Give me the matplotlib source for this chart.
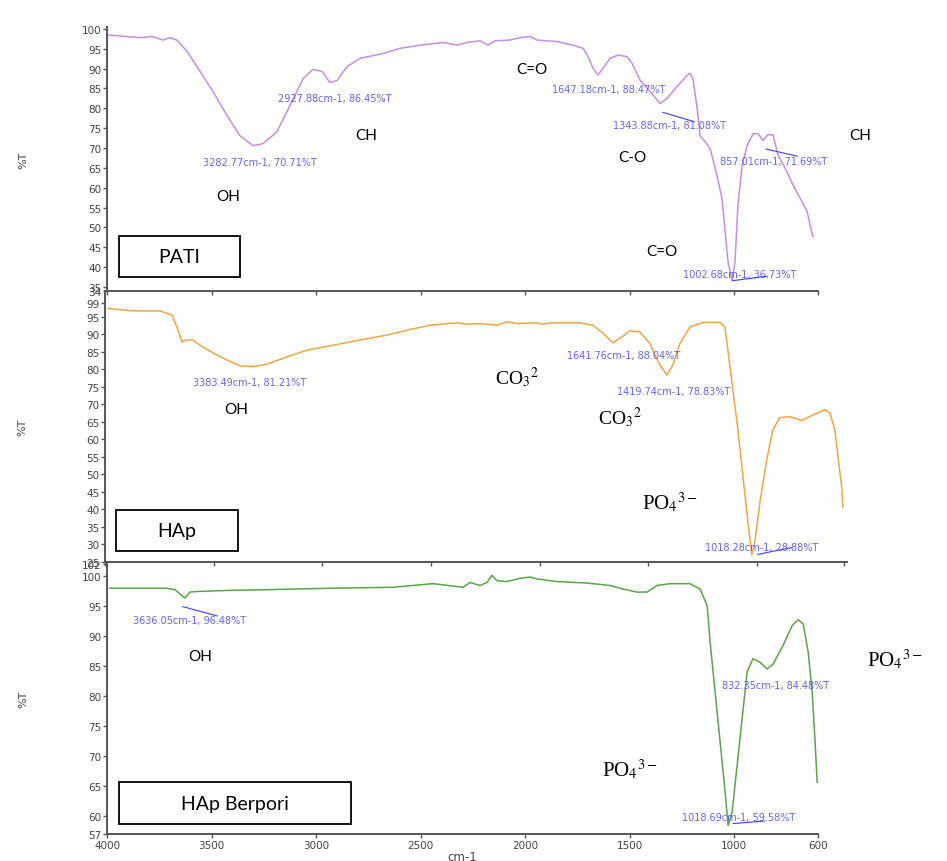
import matplotlib.pyplot as plt
import matplotlib.patches as mpatches
import numpy as np

plt.rcParams['mathtext.fontset'] = 'stix'

# PATI spectrum
pati_wn = [4000, 3842, 3785, 3732, 3700, 3666, 3618, 3555, 3493, 3426, 3364, 3302, 3254, 3187, 3125,
           3062, 3015, 2972, 2934, 2900, 2852, 2790, 2680, 2599, 2503, 2393, 2326, 2278, 2216, 2178,
           2144, 2073, 2025, 1977, 1944, 1848, 1771, 1723, 1700, 1676, 1652, 1628, 1595, 1556, 1513,
           1489, 1451, 1394, 1355, 1322, 1274, 1226, 1212, 1198, 1178, 1164, 1140, 1116, 1083, 1059,
           1044, 1030, 1011, 997, 983, 963, 939, 911, 887, 863, 839, 815, 791, 757, 719,
           686, 652, 638, 624]
pati_t = [98.5, 97.8, 98.1, 97.2, 97.8, 97.2, 94.4, 89.3, 84.2, 78.2, 73.1, 70.6, 71.1, 74.1, 80.7,
          87.5, 89.8, 89.3, 86.5, 87.0, 90.5, 92.6, 93.8, 95.1, 95.9, 96.6, 95.9, 96.6, 97.0, 95.9,
          97.0, 97.2, 97.8, 98.1, 97.2, 96.8, 95.9, 95.1, 93.0, 90.1, 88.4, 90.1, 92.6, 93.4, 93.0,
          91.3, 87.1, 83.7, 81.2, 82.5, 85.5, 88.3, 88.8, 87.5, 80.0, 73.1, 71.6, 69.9, 63.1, 57.2,
          48.9, 41.3, 36.5, 41.3, 55.5, 65.6, 70.6, 73.6, 73.6, 71.9, 73.4, 73.3, 68.2, 64.9, 60.7,
          57.4, 54.0, 50.5, 47.6]

# HAp spectrum
hap_wn = [3986, 3871, 3747, 3692, 3669, 3646, 3623, 3595, 3563, 3503, 3439, 3379, 3319, 3254, 3162,
          3070, 2951, 2827, 2702, 2596, 2504, 2380, 2334, 2274, 2242, 2196, 2150, 2104, 2012, 1989,
          1938, 1814, 1754, 1708, 1662, 1621, 1584, 1538, 1492, 1455, 1414, 1386, 1354, 1308, 1248,
          1170, 1147, 1133, 1110, 1087, 1064, 1041, 1023, 1009, 986, 954, 926, 894, 848, 792,
          742, 687, 664, 641, 627, 608, 604]
hap_t = [97.4, 96.7, 96.7, 95.5, 92.1, 87.9, 88.4, 88.4, 86.9, 84.7, 82.7, 81.0, 80.8, 81.5, 83.6,
         85.5, 86.9, 88.4, 89.8, 91.4, 92.6, 93.3, 92.9, 93.1, 92.9, 92.6, 93.6, 93.1, 93.3, 92.9,
         93.3, 93.3, 92.6, 90.3, 87.6, 89.3, 91.0, 90.7, 87.4, 82.2, 78.4, 81.3, 87.4, 92.1, 93.4,
         93.4, 92.1, 85.5, 74.1, 62.8, 49.5, 36.4, 27.0, 30.7, 42.0, 54.3, 62.8, 66.2, 66.5, 65.4,
         67.0, 68.5, 67.6, 62.8, 55.2, 45.7, 40.6]

# HAp Berpori spectrum
hapb_wn = [3986, 3713, 3675, 3651, 3627, 3603, 3570, 3397, 3235, 2919, 2632, 2441, 2345, 2297, 2264,
           2216, 2183, 2159, 2135, 2087, 2025, 1977, 1944, 1848, 1704, 1594, 1532, 1465, 1417, 1370,
           1307, 1212, 1164, 1130, 1116, 1092, 1068, 1044, 1030, 1011, 987, 963, 939, 911, 877,
           843, 815, 767, 724, 695, 671, 647, 628, 614, 604]
hapb_t = [97.95, 97.95, 97.7, 97.0, 96.3, 97.3, 97.4, 97.6, 97.7, 97.95, 98.1, 98.7, 98.3, 98.1, 98.9,
          98.4, 98.9, 100.1, 99.2, 99.05, 99.6, 99.8, 99.5, 99.05, 98.8, 98.4, 97.8, 97.3, 97.3, 98.4,
          98.7, 98.7, 97.8, 95.05, 89.0, 80.6, 72.3, 63.9, 58.4, 60.6, 68.4, 76.2, 84.0, 86.2, 85.6,
          84.5, 85.3, 88.4, 91.7, 92.7, 92.0, 87.3, 80.6, 72.3, 65.6]

x_ticks = [4000, 3500, 3000, 2500, 2000, 1500, 1000, 600]
x_labels = ['4000', '3500', '3000', '2500', '2000', '1500', '1000', '600']

pati_yticks = [34, 35, 40, 45, 50, 55, 60, 65, 70, 75, 80, 85, 90, 95, 100]
hap_yticks = [25, 30, 35, 40, 45, 50, 55, 60, 65, 70, 75, 80, 85, 90, 95, 99]
hapb_yticks = [57, 60, 65, 70, 75, 80, 85, 90, 95, 100, 102]

# peak labels: (wavenumber, %T, text)
pati_peaks = [(3541, 66.6, '3282.77cm-1, 70.71%T'), (3182, 82.5, '2927.88cm-1, 86.45%T'),
              (1872, 84.8, '1647.18cm-1, 88.47%T'), (1580, 75.9, '1343.88cm-1, 81.08%T'),
              (1068, 66.8, '857.01cm-1, 71.69%T'), (1245, 38.3, '1002.68cm-1, 36.73%T')]
hap_peaks = [(3595, 76.4, '3383.49cm-1, 81.21%T'), (1874, 84.1, '1641.76cm-1, 88.04%T'),
             (1644, 73.9, '1419.74cm-1, 78.83%T'), (1239, 29.3, '1018.28cm-1, 28.88%T')]
hapb_peaks = [(3876, 92.7, '3636.05cm-1, 96.48%T'), (1059, 81.8, '832.35cm-1, 84.48%T'),
              (1250, 59.8, '1018.69cm-1, 59.58%T')]

blue = '#3d3dff'
sans = ['Lato', 'DejaVu Sans']
serif = ['Liberation Serif', 'DejaVu Serif']

fig = plt.figure(figsize=(9.47, 8.62), dpi=100)
ax1 = fig.add_axes([0.113, 0.6613, 0.7508, 0.3063])
ax2 = fig.add_axes([0.1109, 0.3469, 0.7835, 0.3144])
ax3 = fig.add_axes([0.113, 0.0313, 0.7508, 0.3155])


def style(ax, ylim, yticks, xmax, lab_x, show_x=False):
    ax.set_xlim(4000, xmax)
    ax.set_ylim(*ylim)
    ax.set_xticks(x_ticks)
    ax.set_yticks(yticks)
    if show_x:
        ax.set_xticklabels(x_labels)
    else:
        ax.set_xticklabels([])
    ax.spines['top'].set_visible(False)
    ax.spines['right'].set_visible(False)
    for s in ['left', 'bottom']:
        ax.spines[s].set_color('#555555')
        ax.spines[s].set_linewidth(1.4)
    ax.tick_params(labelsize=7.5, labelcolor='#444444', color='#555555', length=3, width=1, pad=1)
    ax.set_ylabel('%T', fontsize=8, color='#444444')
    ax.yaxis.set_label_coords(lab_x, 0.5)
    ax.patch.set_alpha(0)


def peak_labels(ax, peaks):
    for wn, t, s in peaks:
        ax.text(wn, t, s, color=blue, fontsize=7, ha='left', va='center', alpha=0.8, clip_on=False)


def sample_box(ax, x0, y0, w, h, name):
    ax.add_patch(mpatches.Rectangle((x0, y0), w, h, transform=ax.transAxes, fc='white',
                                    ec='black', lw=1.3, zorder=5))
    ax.text(x0 + w / 2, y0 + h / 2, name, transform=ax.transAxes, ha='center', va='center',
            fontsize=14, family=sans, zorder=6)


# PATI
ax1.plot(pati_wn, pati_t, color='#c48ee6', lw=1.1)
style(ax1, (34, 100.5), pati_yticks, 600, -0.111)
peak_labels(ax1, pati_peaks)
ax1.annotate('', xy=(1178, 76.4), xytext=(1355, 79.2), arrowprops=dict(arrowstyle='-', color=blue, lw=0.8))
ax1.annotate('', xy=(686, 67.8), xytext=(863, 69.9), arrowprops=dict(arrowstyle='-', color=blue, lw=0.8))
ax1.annotate('', xy=(830, 37.8), xytext=(1021, 36.5), arrowprops=dict(arrowstyle='-', color=blue, lw=0.8))
for wn, t, s in [(3421, 58.0, 'OH'), (2761, 73.4, 'CH'), (1967, 89.8, 'C=O'),
                 (1489, 67.8, 'C-O'), (399, 73.4, 'CH'), (1346, 44.1, 'C=O')]:
    ax1.text(wn, t, s, ha='center', va='center', fontsize=11, family=sans, clip_on=False)
sample_box(ax1, 0.017, 0.053, 0.170, 0.155, 'PATI')

# HAp
ax2.plot(hap_wn, hap_t, color='#f3a445', lw=1.1)
style(ax2, (25, 102.4), hap_yticks, 585, -0.104)
peak_labels(ax2, hap_peaks)
ax2.annotate('', xy=(825, 29.3), xytext=(1009, 27.0), arrowprops=dict(arrowstyle='-', color=blue, lw=0.8))
ax2.text(3397, 68.75, 'OH', ha='center', va='center', fontsize=11, family=sans)
ax2.text(2104, 77.8, 'CO$_3$$^2$', ha='center', va='center', fontsize=14, family=serif)
ax2.text(1630, 66.5, 'CO$_3$$^2$', ha='center', va='center', fontsize=14, family=serif)
ax2.text(1400, 42.0, 'PO$_4$$^{3-}$', ha='center', va='center', fontsize=15, family=serif)
sample_box(ax2, 0.015, 0.041, 0.164, 0.151, 'HAp')

# HAp Berpori
ax3.plot(hapb_wn, hapb_t, color='#5aa548', lw=1.1)
style(ax3, (57, 102.3), hapb_yticks, 600, -0.111, show_x=True)
peak_labels(ax3, hapb_peaks)
ax3.annotate('', xy=(3460, 93.2), xytext=(3651, 95.0), arrowprops=dict(arrowstyle='-', color=blue, lw=0.8))
ax3.annotate('', xy=(843, 59.2), xytext=(1020, 58.7), arrowprops=dict(arrowstyle='-', color=blue, lw=0.8))
ax3.text(3555, 86.7, 'OH', ha='center', va='center', fontsize=11, family=sans)
ax3.text(231, 86.2, 'PO$_4$$^{3-}$', ha='center', va='center', fontsize=15, family=serif, clip_on=False)
ax3.text(1499, 67.8, 'PO$_4$$^{3-}$', ha='center', va='center', fontsize=15, family=serif)
sample_box(ax3, 0.017, 0.037, 0.326, 0.154, 'HAp Berpori')
ax3.set_xlabel('cm-1', fontsize=8.5, color='#444444', labelpad=0)

fig.savefig('out.png', dpi=100)
